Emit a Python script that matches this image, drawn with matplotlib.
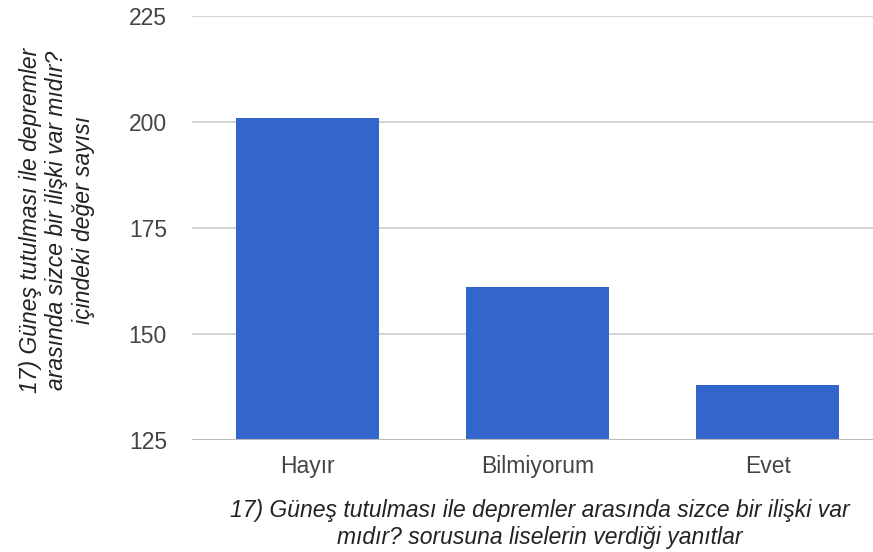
import matplotlib
matplotlib.use("Agg")
import matplotlib.pyplot as plt

categories = ["Hayır", "Bilmiyorum", "Evet"]
values = [201, 161, 138]
yticks = [125, 150, 175, 200, 225]

x_title = "17) Güneş tutulması ile depremler arasında sizce bir ilişki var\nmıdır? sorusuna liselerin verdiği yanıtlar"
y_title = "17) Güneş tutulması ile depremler\narasında sizce bir ilişki var mıdır?\niçindeki değer sayısı"

plt.rcParams['font.family'] = ['Liberation Sans', 'DejaVu Sans']

fig = plt.figure(figsize=(8.73, 5.52), dpi=100)
W, H = 873, 552
ax = fig.add_axes([192 / W, 1 - 440 / H, 1 - 192 / W, (440 - 16) / H])

xs = list(range(len(categories)))
ax.bar(xs, values, width=0.62, color="#3366CC", zorder=3)
ax.set_xlim(-0.5, 2.457)
ax.set_ylim(125, 225)
ax.set_yticks(yticks)
ax.set_xticks(xs)
ax.set_xticklabels(categories)
ax.yaxis.grid(True, color="#cccccc", linewidth=1.2, zorder=0)
ax.set_axisbelow(True)
for s in ax.spines.values():
    s.set_visible(False)
ax.axhline(125, color="#bbbbbb", linewidth=1.5, zorder=4)
ax.tick_params(axis='both', length=0, labelsize=16.5, labelcolor="#444444")
ax.tick_params(axis='y', pad=18)
ax.tick_params(axis='x', pad=11)

fig.text(540 / W, 1 - 524 / H, x_title, ha='center', va='center', fontsize=16.5,
         style='italic', color="#222222", linespacing=1.2)
fig.text(57 / W, 1 - 220 / H, y_title, ha='center', va='center', fontsize=16.5,
         style='italic', color="#222222", rotation=90, linespacing=1.2)

fig.savefig("out.png", dpi=100)
